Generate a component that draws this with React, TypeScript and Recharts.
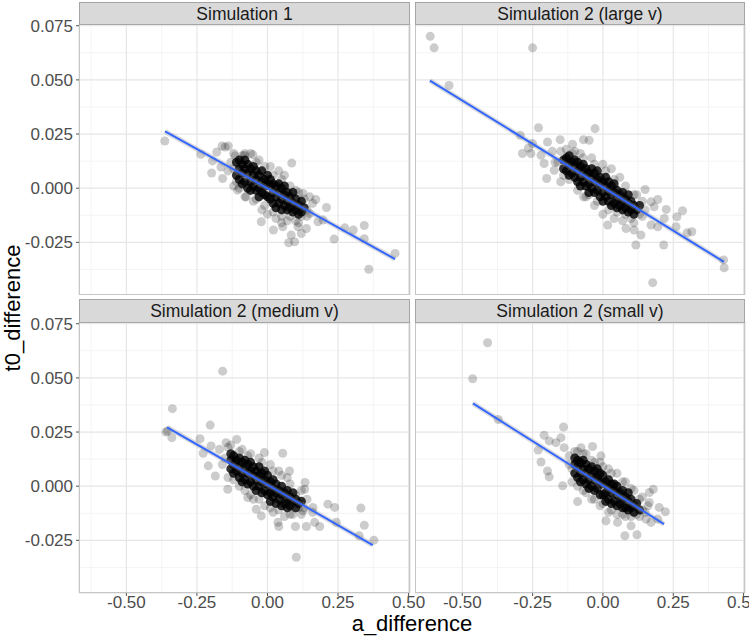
import React from 'react';
import { ScatterChart, Scatter, XAxis, YAxis, CartesianGrid } from 'recharts';

type P = [number, number];

const panelTitles = ['Simulation 1', 'Simulation 2 (large v)', 'Simulation 2 (medium v)', 'Simulation 2 (small v)'];
const xAxisTitle = 'a_difference';
const yAxisTitle = 't0_difference';

const xTicks = [-0.5, -0.25, 0, 0.25, 0.5];
const yTicks = [-0.025, 0, 0.025, 0.05, 0.075];
const xMinorTicks = [-0.625, -0.375, -0.125, 0.125, 0.375];
const yMinorTicks = [-0.0375, -0.0125, 0.0125, 0.0375, 0.0625];
const xDomain: [number, number] = [-0.668, 0.505];
const yDomain: [number, number] = [-0.0493, 0.0758];

// Simulation 1
const sim1Core: P[] = [
  [-0.11, 0.012], [-0.11, 0.006], [-0.10, 0.009], [-0.10, 0.004], [-0.10, 0.013],
  [-0.09, 0.011], [-0.09, 0.002], [-0.09, 0.007], [-0.08, 0.009], [-0.08, 0.003], [-0.08, 0.013],
  [-0.07, 0.007], [-0.07, 0.000], [-0.07, 0.011], [-0.06, 0.009], [-0.06, 0.003], [-0.06, -0.001],
  [-0.05, 0.006], [-0.05, 0.001], [-0.05, 0.010], [-0.04, 0.004], [-0.04, -0.001], [-0.04, 0.008],
  [-0.03, 0.006], [-0.03, 0.000], [-0.03, -0.004], [-0.02, 0.003], [-0.02, -0.002], [-0.02, 0.008],
  [-0.01, 0.004], [-0.01, -0.003], [-0.01, 0.001], [0.00, 0.002], [0.00, -0.004], [0.00, 0.006],
  [0.01, 0.001], [0.01, -0.005], [0.01, 0.004], [0.02, -0.002], [0.02, 0.002], [0.02, -0.007],
  [0.03, -0.004], [0.03, 0.001], [0.03, -0.009], [0.04, -0.002], [0.04, -0.007], [0.04, 0.002],
  [0.05, -0.005], [0.05, 0.000], [0.05, -0.010], [0.06, -0.003], [0.06, -0.008], [0.06, 0.001],
  [0.07, -0.006], [0.07, -0.010], [0.07, -0.002], [0.08, -0.004], [0.08, -0.009],
  [0.09, -0.007], [0.09, -0.011], [0.09, -0.002], [0.10, -0.005], [0.10, -0.010],
  [0.11, -0.008], [0.11, -0.012], [0.12, -0.006], [0.12, -0.011], [0.13, -0.009],
];
const sim1Outer: P[] = [
  [-0.364, 0.0218], [-0.236, 0.0157], [-0.198, 0.0070], [-0.180, 0.0167], [-0.195, 0.0126],
  [-0.161, 0.0195], [-0.139, 0.0195], [-0.150, 0.0190], [-0.165, 0.0098], [-0.159, 0.0045],
  [-0.106, -0.0009], [-0.076, -0.0040], [0.086, 0.0116], [-0.052, 0.0155], [-0.082, 0.0152],
  [-0.022, -0.0155], [0.021, -0.0193], [0.054, -0.0178], [0.075, -0.0252], [0.096, -0.0247],
  [0.084, -0.0216], [0.120, -0.0209], [0.138, -0.0186], [0.108, -0.0178], [0.126, -0.0024],
  [0.171, -0.0052], [0.209, -0.0089], [0.197, -0.0147], [0.236, -0.0235], [0.274, -0.0183],
  [0.304, -0.0193], [0.343, -0.0172], [0.343, -0.0233], [0.452, -0.0301], [0.359, -0.0374],
  [0.160, -0.0070], [0.149, -0.0117], [0.179, -0.0155],
  [-0.13, 0.012], [-0.12, 0.016], [-0.11, 0.003], [-0.09, 0.015], [-0.06, 0.016], [-0.03, 0.013],
  [0.01, 0.010], [0.04, 0.008], [0.06, 0.006], [-0.05, -0.006], [-0.02, -0.010], [0.00, -0.012],
  [0.03, -0.014], [0.07, -0.015], [0.10, -0.015], [0.12, -0.013], [0.14, -0.010], [0.15, -0.004],
  [0.11, -0.002], [-0.10, 0.000], [-0.14, 0.008], [0.05, -0.013],
  [-0.12, 0.009], [-0.115, 0.015], [-0.08, 0.016], [-0.04, 0.012], [-0.01, 0.010], [0.02, 0.006],
  [0.05, 0.004], [0.08, 0.001], [0.10, -0.001], [0.13, -0.005], [0.14, -0.013], [0.11, -0.016],
  [0.08, -0.013], [0.05, -0.016], [0.02, -0.011], [-0.01, -0.008], [-0.04, -0.005], [-0.08, -0.004],
  [-0.12, 0.001],
];
const sim1Fit: P[] = [[-0.363, 0.0262], [0.452, -0.0327]];

// Simulation 2 (large v)
const sim2Core: P[] = [
  [-0.14, 0.013], [-0.14, 0.009], [-0.13, 0.014], [-0.13, 0.008], [-0.12, 0.011], [-0.12, 0.006], [-0.12, 0.015],
  [-0.11, 0.012], [-0.11, 0.007], [-0.10, 0.010], [-0.10, 0.005], [-0.10, 0.013],
  [-0.09, 0.008], [-0.09, 0.003], [-0.09, 0.012], [-0.08, 0.010], [-0.08, 0.005], [-0.08, 0.001],
  [-0.07, 0.008], [-0.07, 0.003], [-0.07, 0.011], [-0.06, 0.006], [-0.06, 0.001], [-0.06, 0.009],
  [-0.05, 0.007], [-0.05, 0.002], [-0.05, -0.002], [-0.04, 0.005], [-0.04, 0.000], [-0.04, 0.009],
  [-0.03, 0.003], [-0.03, -0.002], [-0.03, 0.007], [-0.02, 0.004], [-0.02, -0.001], [-0.02, 0.008],
  [-0.01, 0.002], [-0.01, -0.004], [-0.01, 0.005], [0.00, 0.003], [0.00, -0.002], [0.00, -0.006],
  [0.01, 0.001], [0.01, -0.004], [0.01, 0.005], [0.02, -0.001], [0.02, -0.006], [0.02, 0.003],
  [0.03, -0.003], [0.03, 0.001], [0.03, -0.008], [0.04, -0.002], [0.04, -0.007], [0.04, 0.002],
  [0.05, -0.005], [0.05, -0.001], [0.05, -0.009], [0.06, -0.003], [0.06, -0.008],
  [0.07, -0.006], [0.07, -0.002], [0.07, -0.010], [0.08, -0.005], [0.08, -0.009],
  [0.09, -0.007], [0.09, -0.011], [0.09, -0.003], [0.10, -0.006], [0.10, -0.010],
  [0.11, -0.008], [0.11, -0.012], [0.12, -0.010], [0.13, -0.008],
];
const sim2Outer: P[] = [
  [-0.614, 0.0701], [-0.600, 0.0648], [-0.547, 0.0474], [-0.250, 0.0648], [-0.229, 0.0279],
  [-0.028, 0.0275], [-0.294, 0.0244], [-0.286, 0.0160], [-0.256, 0.0160], [-0.250, 0.0206],
  [-0.265, 0.0185], [-0.197, 0.0213], [-0.152, 0.0224], [-0.108, 0.0203], [-0.069, 0.0224],
  [-0.049, 0.0221], [-0.200, 0.0045], [-0.209, 0.0114], [-0.220, 0.0152], [-0.173, 0.0083],
  [-0.069, -0.0040], [0.017, -0.0170], [0.082, -0.0186], [0.117, -0.0262], [0.135, -0.0216],
  [0.111, -0.0193], [0.150, -0.0006], [0.171, -0.0063], [0.195, -0.0052], [0.182, -0.0086],
  [0.171, -0.0170], [0.195, -0.0178], [0.225, -0.0098], [0.218, -0.0140], [0.283, -0.0104],
  [0.263, -0.0132], [0.260, -0.0178], [0.216, -0.0262], [0.299, -0.0206], [0.316, -0.0201],
  [0.429, -0.0331], [0.431, -0.0367], [0.177, -0.0436],
  [-0.18, 0.017], [-0.16, 0.012], [-0.13, 0.018], [-0.10, 0.017], [-0.12, 0.004], [-0.08, 0.016],
  [-0.04, 0.014], [0.00, 0.011], [0.03, 0.009], [0.06, 0.005], [-0.06, -0.004], [-0.03, -0.008],
  [0.00, -0.012], [0.04, -0.014], [0.07, -0.015], [0.10, -0.014], [0.13, -0.012], [0.15, -0.010],
  [0.12, -0.003], [-0.14, 0.006],
  [-0.17, 0.012], [-0.15, 0.017], [-0.11, 0.016], [-0.07, 0.014], [-0.03, 0.011], [0.01, 0.008],
  [0.04, 0.004], [0.08, 0.001], [0.11, -0.003], [0.14, -0.006], [0.14, -0.013], [0.11, -0.016],
  [0.08, -0.012], [0.05, -0.011], [0.02, -0.010], [-0.02, -0.006], [-0.05, -0.003], [-0.09, -0.001],
  [-0.15, 0.003],
];
const sim2Fit: P[] = [[-0.615, 0.0497], [0.430, -0.0340]];

// Simulation 2 (medium v)
const sim3Core: P[] = [
  [-0.13, 0.012], [-0.13, 0.008], [-0.13, 0.015], [-0.12, 0.010], [-0.12, 0.006], [-0.12, 0.014],
  [-0.11, 0.012], [-0.11, 0.007], [-0.10, 0.009], [-0.10, 0.004], [-0.10, 0.013],
  [-0.09, 0.011], [-0.09, 0.006], [-0.09, 0.002], [-0.08, 0.008], [-0.08, 0.003], [-0.08, 0.012],
  [-0.07, 0.006], [-0.07, 0.010], [-0.07, 0.001], [-0.06, 0.007], [-0.06, 0.002], [-0.06, 0.011],
  [-0.05, 0.005], [-0.05, 0.000], [-0.05, 0.009], [-0.04, 0.003], [-0.04, 0.007], [-0.04, -0.002],
  [-0.03, 0.005], [-0.03, 0.000], [-0.03, 0.009], [-0.02, 0.002], [-0.02, -0.003], [-0.02, 0.006],
  [-0.01, 0.003], [-0.01, -0.002], [-0.01, 0.007], [0.00, 0.001], [0.00, -0.004], [0.00, 0.005],
  [0.01, 0.002], [0.01, -0.003], [0.01, -0.007], [0.02, -0.001], [0.02, -0.005], [0.02, 0.003],
  [0.03, -0.003], [0.03, 0.001], [0.03, -0.008], [0.04, -0.002], [0.04, -0.006],
  [0.05, -0.004], [0.05, 0.000], [0.05, -0.009], [0.06, -0.003], [0.06, -0.008],
  [0.07, -0.006], [0.07, -0.002], [0.07, -0.010], [0.08, -0.005], [0.08, -0.009],
  [0.09, -0.007], [0.09, -0.003], [0.10, -0.006], [0.10, -0.010], [0.11, -0.008], [0.12, -0.007],
];
const sim3Outer: P[] = [
  [-0.159, 0.0531], [-0.337, 0.0358], [-0.354, 0.0255], [-0.360, 0.0250], [-0.339, 0.0224],
  [-0.203, 0.0282], [-0.239, 0.0219], [-0.228, 0.0152], [-0.210, 0.0094], [-0.200, 0.0186],
  [-0.185, 0.0047], [-0.141, -0.0014], [-0.109, 0.0216], [-0.147, 0.0201], [-0.011, 0.0155],
  [0.054, 0.0152], [0.078, 0.0070], [-0.070, -0.0052], [-0.040, -0.0106], [-0.022, -0.0137],
  [0.037, -0.0167], [0.040, -0.0186], [0.099, -0.0186], [0.138, -0.0186], [0.185, -0.0186],
  [0.167, -0.0167], [0.126, -0.0114], [0.161, -0.0098], [0.214, -0.0083], [0.238, -0.0098],
  [0.244, -0.0167], [0.331, -0.0101], [0.343, -0.0180], [0.325, -0.0229], [0.377, -0.0249],
  [0.102, -0.0328], [0.132, -0.0014], [0.133, 0.0017],
  [-0.17, 0.017], [-0.16, 0.010], [-0.13, 0.019], [-0.12, 0.003], [-0.09, 0.017], [-0.06, 0.015],
  [-0.03, 0.013], [0.01, 0.010], [0.04, 0.007], [0.07, 0.004], [-0.08, -0.002], [-0.05, -0.006],
  [-0.01, -0.009], [0.02, -0.012], [0.06, -0.014], [0.09, -0.013], [0.11, -0.010], [0.14, -0.006],
  [0.16, -0.012], [0.10, -0.004],
  [-0.15, 0.013], [-0.14, 0.018], [-0.10, 0.016], [-0.07, 0.014], [-0.02, 0.011], [0.02, 0.007],
  [0.05, 0.005], [0.08, 0.001], [0.12, -0.002], [0.13, -0.010], [0.12, -0.013], [0.08, -0.013],
  [0.04, -0.011], [0.01, -0.010], [-0.03, -0.006], [-0.06, -0.004], [-0.10, 0.000], [-0.14, 0.004],
];
const sim3Fit: P[] = [[-0.356, 0.0272], [0.373, -0.0272]];

// Simulation 2 (small v)
const sim4Core: P[] = [
  [-0.10, 0.010], [-0.10, 0.006], [-0.10, 0.013], [-0.09, 0.009], [-0.09, 0.004], [-0.09, 0.012],
  [-0.08, 0.011], [-0.08, 0.006], [-0.08, 0.002], [-0.07, 0.008], [-0.07, 0.003], [-0.07, 0.012],
  [-0.06, 0.006], [-0.06, 0.001], [-0.06, 0.010], [-0.05, 0.008], [-0.05, 0.003], [-0.05, -0.001],
  [-0.04, 0.005], [-0.04, 0.000], [-0.04, 0.009], [-0.03, 0.003], [-0.03, -0.002], [-0.03, 0.007],
  [-0.02, 0.004], [-0.02, -0.001], [-0.02, 0.008], [-0.01, 0.002], [-0.01, -0.004], [-0.01, 0.006],
  [0.00, 0.001], [0.00, -0.004], [0.00, 0.005], [0.01, 0.002], [0.01, -0.003], [0.01, -0.007],
  [0.02, -0.001], [0.02, -0.006], [0.02, 0.003], [0.03, -0.003], [0.03, 0.001], [0.03, -0.008],
  [0.04, -0.002], [0.04, -0.007], [0.04, 0.001], [0.05, -0.004], [0.05, -0.009], [0.05, 0.000],
  [0.06, -0.003], [0.06, -0.008], [0.07, -0.006], [0.07, -0.010], [0.07, -0.002],
  [0.08, -0.005], [0.08, -0.010], [0.09, -0.007], [0.09, -0.011], [0.09, -0.003],
  [0.10, -0.006], [0.10, -0.010], [0.11, -0.009], [0.11, -0.012], [0.12, -0.008], [0.13, -0.011],
];
const sim4Outer: P[] = [
  [-0.410, 0.0662], [-0.463, 0.0496], [-0.372, 0.0308], [-0.140, 0.0273], [-0.209, 0.0235],
  [-0.191, 0.0209], [-0.167, 0.0201], [-0.149, 0.0224], [-0.138, 0.0178], [-0.230, 0.0167],
  [-0.220, 0.0112], [-0.197, 0.0070], [-0.191, 0.0043], [-0.037, 0.0183], [-0.078, 0.0178],
  [-0.143, 0.0002], [-0.090, -0.0071], [-0.007, 0.0140], [0.078, -0.0229], [0.121, -0.0224],
  [0.011, -0.0160], [0.052, -0.0167], [0.165, -0.0029], [0.179, -0.0014], [0.200, -0.0098],
  [0.222, -0.0118], [0.195, -0.0152], [0.171, -0.0167], [0.153, -0.0152], [0.165, -0.0075],
  [0.100, -0.0183],
  [-0.12, 0.014], [-0.11, 0.008], [-0.09, 0.016], [-0.06, 0.015], [-0.11, 0.002], [-0.07, -0.002],
  [-0.04, 0.012], [-0.01, 0.011], [0.02, 0.008], [0.05, 0.006], [0.08, 0.002], [0.11, -0.002],
  [0.14, -0.005], [-0.04, -0.006], [-0.01, -0.009], [0.02, -0.012], [0.05, -0.013], [0.08, -0.014],
  [0.12, -0.013], [0.14, -0.011], [0.16, -0.009],
  [-0.12, 0.010], [-0.10, 0.016], [-0.07, 0.015], [-0.03, 0.011], [0.00, 0.009], [0.03, 0.006],
  [0.07, 0.002], [0.10, -0.001], [0.13, -0.006], [0.15, -0.012], [0.13, -0.014], [0.10, -0.014],
  [0.07, -0.013], [0.03, -0.011], [0.00, -0.008], [-0.03, -0.006], [-0.06, -0.003], [-0.09, 0.000],
];
const sim4Fit: P[] = [[-0.462, 0.0382], [0.217, -0.0175]];

const FONT = '"Liberation Sans", Arial, Helvetica, sans-serif';
const toObj = (a: P[]) => a.map(([x, y]) => ({ x, y }));
const emptyShape = () => <g />;

type PanelProps = {
  title: string;
  core: P[];
  outer: P[];
  fit: P[];
  plotLeft: number;
  plotTop: number;
  plotW: number;
  plotH: number;
  stripTop: number;
  stripH: number;
  showX: boolean;
  showY: boolean;
};

const Y_AXIS_W = 79;
const X_AXIS_H = 35;
const M_TOP = 14;
const M_RIGHT = 40;

function PanelChart(p: PanelProps) {
  const yw = p.showY ? Y_AXIS_W : 0;
  const xh = p.showX ? X_AXIS_H : 0;
  const width = yw + p.plotW + M_RIGHT;
  const height = M_TOP + p.plotH + xh;
  const tickStyle = { fontSize: 17, fill: '#4D4D4D', fontFamily: FONT };
  return (
    <div style={{ position: 'absolute', left: p.plotLeft - yw, top: p.plotTop - M_TOP }}>
      <ScatterChart width={width} height={height} margin={{ top: M_TOP, right: M_RIGHT, bottom: 0, left: 0 }} style={{ overflow: 'visible' }}>
        <XAxis xAxisId="minor" dataKey="x" type="number" domain={xDomain} ticks={xMinorTicks} hide allowDataOverflow />
        <YAxis yAxisId="minor" dataKey="y" type="number" domain={yDomain} ticks={yMinorTicks} hide allowDataOverflow />
        <CartesianGrid xAxisId="minor" yAxisId="minor" stroke="#F4F4F4" strokeWidth={1} />
        <XAxis
          xAxisId="main"
          dataKey="x"
          type="number"
          domain={xDomain}
          ticks={xTicks}
          interval={0}
          allowDataOverflow
          hide={!p.showX}
          height={X_AXIS_H}
          tickSize={3}
          tickMargin={0}
          axisLine={false}
          tickLine={{ stroke: '#555555' }}
          tick={tickStyle}
          tickFormatter={(v: number) => v.toFixed(2)}
        />
        <YAxis
          yAxisId="main"
          dataKey="y"
          type="number"
          domain={yDomain}
          ticks={yTicks}
          interval={0}
          allowDataOverflow
          hide={!p.showY}
          width={Y_AXIS_W}
          tickSize={3}
          tickMargin={3}
          axisLine={false}
          tickLine={{ stroke: '#555555' }}
          tick={tickStyle}
          tickFormatter={(v: number) => v.toFixed(3)}
        />
        <CartesianGrid xAxisId="main" yAxisId="main" stroke="#E6E6E6" strokeWidth={1.2} />
        <Scatter xAxisId="main" yAxisId="main" data={toObj(p.outer)} fill="#000000" fillOpacity={0.2} isAnimationActive={false} />
        <Scatter xAxisId="main" yAxisId="main" data={toObj(p.core)} fill="#000000" fillOpacity={0.8} isAnimationActive={false} />
        <Scatter
          xAxisId="main"
          yAxisId="main"
          data={toObj(p.fit)}
          line={{ stroke: '#9A9A9A', strokeWidth: 5, strokeOpacity: 0.35 }}
          shape={emptyShape}
          isAnimationActive={false}
        />
        <Scatter
          xAxisId="main"
          yAxisId="main"
          data={toObj(p.fit)}
          line={{ stroke: '#3366FF', strokeWidth: 2 }}
          shape={emptyShape}
          isAnimationActive={false}
        />
      </ScatterChart>
    </div>
  );
}

function Decor(p: PanelProps) {
  return (
    <>
      <div
        style={{
          position: 'absolute',
          left: p.plotLeft,
          top: p.plotTop,
          width: p.plotW,
          height: p.plotH,
          border: '1px solid #C6C6C6',
          boxSizing: 'border-box',
          pointerEvents: 'none',
        }}
      />
      <div
        style={{
          position: 'absolute',
          left: p.plotLeft,
          top: p.stripTop,
          width: p.plotW,
          height: p.stripH,
          background: '#D9D9D9',
          border: '1px solid #A5A5A5',
          boxSizing: 'border-box',
          display: 'flex',
          alignItems: 'center',
          justifyContent: 'center',
          fontFamily: FONT,
          fontSize: 17.5,
          color: '#1A1A1A',
          lineHeight: '18px',
        }}
      >
        {p.title}
      </div>
    </>
  );
}

export default function App() {
  const panels: PanelProps[] = [
    { title: panelTitles[0], core: sim1Core, outer: sim1Outer, fit: sim1Fit, plotLeft: 79, plotTop: 24, plotW: 331, plotH: 271, stripTop: 2, stripH: 23, showX: false, showY: true },
    { title: panelTitles[1], core: sim2Core, outer: sim2Outer, fit: sim2Fit, plotLeft: 415, plotTop: 24, plotW: 330, plotH: 271, stripTop: 2, stripH: 23, showX: false, showY: false },
    { title: panelTitles[2], core: sim3Core, outer: sim3Outer, fit: sim3Fit, plotLeft: 79, plotTop: 322, plotW: 331, plotH: 271, stripTop: 299, stripH: 24, showX: true, showY: true },
    { title: panelTitles[3], core: sim4Core, outer: sim4Outer, fit: sim4Fit, plotLeft: 415, plotTop: 322, plotW: 330, plotH: 271, stripTop: 299, stripH: 24, showX: true, showY: false },
  ];
  return (
    <div style={{ position: 'absolute', left: 0, top: 0, width: 749, height: 640, overflow: 'hidden', background: '#FFFFFF' }}>
      {panels.map((p, i) => (
        <PanelChart key={'c' + i} {...p} />
      ))}
      {panels.map((p, i) => (
        <Decor key={'d' + i} {...p} />
      ))}
      <div
        style={{
          position: 'absolute',
          left: 412,
          top: 616,
          transform: 'translateX(-50%)',
          fontFamily: FONT,
          fontSize: 22,
          lineHeight: '16px',
          color: '#000000',
          whiteSpace: 'nowrap',
        }}
      >
        {xAxisTitle}
      </div>
      <div
        style={{
          position: 'absolute',
          left: 13,
          top: 308,
          transform: 'translate(-50%, -50%) rotate(-90deg)',
          fontFamily: FONT,
          fontSize: 22,
          lineHeight: '22px',
          color: '#000000',
          whiteSpace: 'nowrap',
        }}
      >
        {yAxisTitle}
      </div>
    </div>
  );
}
